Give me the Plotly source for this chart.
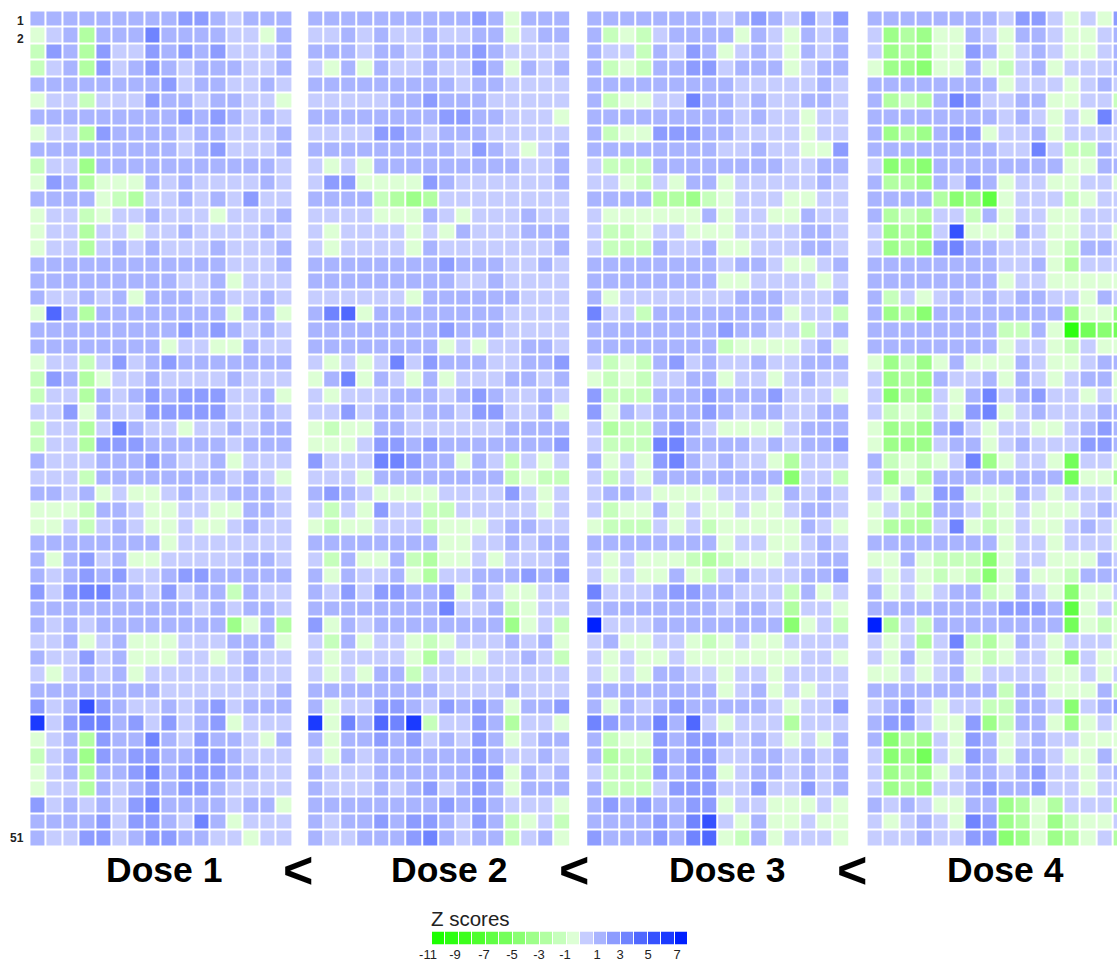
import plotly.graph_objects as go

# Cell codes: digits 0..7 are z = 0..7 (blue), letters a..k are z = -1..-11 (green)
dose1 = [
 "1111111112210111", "a01c1113111100a1", "b21c200212120001", "b01c201210111001", "1111111120110010",
 "a00b00021101100a", "1111111112121010", "a00c211110110001", "1111111110120001", "b00d111111111110",
 "a21caaa101000010", "1111abc001010200", "a00ba001000a0001", "a00c00a001000010", "a00c010100010001",
 "1111111111110001", "111111111001a000", "100101a111010010", "a41c11111111a11a", "1111111112121010",
 "11111111a00aa100", "a00b020121111111", "b21ca00100001000", "b00c10121222001a", "002a100222220010",
 "b00c03100a001011", "b00c222111110111", "100011121001a000", "000b11111111010a", "1101a0aa01001110",
 "aaab110aa00aa110", "aa0b010aa0aa0100", "11111111a0000000", "1a1201aa00000110", "1012120012211111",
 "20233110 2011b100", "1111111111010110", "10101111 1111da1c", "001a01aaa000111a", "100201aaa00a0100",
 "0a0101a000000100", "1111111100000001", "2015210010120111", "602331202012a000", "a01c2113102110a1",
 "b01d212211221000", "a01c112312221100", "a00c101212210000", "201010231111011a", "111120221031a000",
 "100220122110 0a00",
]
dose2 = [
 "111111111121a111", "001010010011a011", "1110110111210000", "0a1a10010021a101", "1111111110110000",
 "0000011211100000", "111111112211000a", "0000221011100000", "1111111110210a01", "0a0a111111111001",
 "022aaaa210000001", "1111bcdc00000000", "0000aaa10a000100", "0a0000a0a1000111", "0a0000a100000001",
 "1111111121110010", "1111111110010000", "000000a111111000", "134a111111110000", "1111111121110000",
 "11111111a0a00110", "0a0a030211100112", "a13a10a1a0001101", "0a00011101210010", "002011011022001a",
 "abaa110000001111", "aaa0221211111112", "200033211a10b0a0", "000a11111111babb", "1210aaaa000020a0",
 "0b0a200bb00000a0", "abaa000baaa01100", "11111111aa001011", "0b1aa1bcaa0a0001", "1a1001ac00111212",
 "102022112a10aa00", "111111113001ba00", "2a1011111111da0b", "0b1a00aba000101a", "0a0000ac0aa0010b",
 "0a0a11b000000000", "1111111100001000", "1a0022102121a112", "6a31436b0021c00a", "1a1121201021a011",
 "0a10111111210010", "100011111122a101", "100010120121a111", "111111112121000a", "101121221021ba0b",
 "100111231011b01a",
]
dose3 = [
 "1111111101210202", "1bab01111a10a101", "100b1021a010a101", "1bab11220111a011", "1111111110000010",
 "1baa003110100110", "1111111110100a00", "1baa222110000a00", "11111111 00100aa2", "0bbb111111110011",
 "00ab0a11a0000010", "1111ccdba000aa00", "0aaaaaa1a00aa100", "0bba00aaa0000110", "0bbb1001aa000110",
 "111111110110aa01", "11111111aa0000a0", "1a00000001110001", "300b11111111a00b", "1111111121100b01",
 "11111111baaaa01a", "0bab120100100111", "abab0011a00a0100", "2bbb11121112000a", "2a10111210110011",
 "0cbb1210aaaa0111", "0bbb331111010112", "1a0a2310100ac000", "0b0a11111111e00b", "0110aaaa000a1010",
 "0baa1a0aa0aa0110", "abbb0a0baaaaa10a", "11111111a00aa010", "0a0aaabcbaaa0011", "0a0aa1ab01000112",
 "300012211000b1a0", "111111110110c00a", "700011111111ea0b", "01aa00aba0aa0000", "0a0aa0aaaaaaa00a",
 "0a0a1100a00a0000", "11111111a01a0a00", "1a1012111110a002", "32113140a000c000", "1baa21221010a0a1",
 "1cbb212200110101", "0bbb2122a0110101", "1bbb022200200201", "12121122a00aa a0a", "111121350a1aa0aa",
 "21112134ab1a000a",
]
dose4 = [
 "111111110220a0a2", "0dcdaa10a110aa01", "0dcdaa21a010aa01", "addeaa1ab01a0001", "11111111a000a010",
 "1cbc1320011aa00b", "11111111010a0a30", "1dcd122a001a0000", "111111110030bb10", "0ede11111111aa11",
 "1ccd1021a00aa00a", "1111cedga000ba00", "1cbc00b1a00aa000", "0dcd05aaa10aa00a", "0dcd2311000ab110",
 "11111111001ac000", "11111111a00aaaaa", "1b0a010101100a10", "1dce11111111daad", "11111111bb1ajfef",
 "11111111a00ab0aa", "adbda1aaa10aa011", "0dcd1001a10a011a", "0ecd0a1301200a0a", "0bab0a23a0100011",
 "adcd120a00aa0121", "addd011a01000221", "1baba03da00af00a", "0dac11111111faad", "0a1a22aaa10a000a",
 "a0bc110ba0aaa010", "accc03aba0aa010a", "11111111a00a000a", "aa1abbbea00aaa10", "0a0ababea1aab111",
 "1a0a011ba10aeaa0", "111111112221ga0b", "7c0b11111111faba", "0a0c03bca10a000a", "0a1a01aba00ae0aa",
 "aa0a01a0000aa0a0", "11111111b11aaa1b", "0120a00bb110e012", "1220aa2db11ada0a", "1ecd0a21a0100aaa",
 "0edf0a21a110aa1a", "0dcda01101200a01", "0dcd001211200a00", "1010aa11dcac000c", "0a010a32dcadbaa0",
 "00010022edadca0c",
]

row_labels = ["1", "2", "51"]
dose_names = ["Dose 1", "Dose 2", "Dose 3", "Dose 4"]
legend_values = list(range(-11, 8))
legend_tick_text = ["-11", "-9", "-7", "-5", "-3", "-1", "1", "3", "5", "7"]

green_shades = ["#DDFFD5", "#C6FFBC", "#B2FFA2", "#9EFF8A", "#8AFF72", "#74FF5A",
                "#60FF44", "#4EFF2E", "#3CFF1C", "#2CFF10", "#1CFF00"]
blue_shades = ["#C6CDFF", "#A9B4FF", "#8D9CFF", "#7084FF", "#5068FF", "#3652FF", "#1B3AFF", "#0020FF"]


def decode(rows):
    out = []
    for r in rows:
        r = r.replace(" ", "")
        assert len(r) == 16, r
        out.append([int(c) if c.isdigit() else -(ord(c) - 96) for c in r])
    return out


W, H = 1117, 963
ZMIN, ZMAX = -11.5, 7.5
scale = []
cols = list(reversed(green_shades)) + blue_shades
n = len(cols)
for i, c in enumerate(cols):
    scale += [[i / n, c], [(i + 1) / n, c]]


def fx(px):
    return px / W


def fy(px):
    return 1 - px / H


fig = go.Figure()
panels = [
    (dose1, 29.4, 291.9, 15.5),
    (dose2, 307.2, 569.7, 15.5),
    (dose3, 586.2, 849.0, 15.5),
    (dose4, 866.6, 1117.0, 14.77),
]
layout = {}
for i, (vals, x0, x1, xmax) in enumerate(panels):
    k = i + 1
    suffix = "" if k == 1 else str(k)
    fig.add_trace(go.Heatmap(z=decode(vals), x=list(range(16)), y=list(range(1, 52)),
                             xaxis="x" + suffix, yaxis="y" + suffix,
                             zmin=ZMIN, zmax=ZMAX, colorscale=scale, showscale=False,
                             xgap=2, ygap=2, hoverinfo="skip"))
    layout["xaxis" + suffix] = dict(domain=[fx(x0), fx(x1)], range=[-0.5, xmax], visible=False,
                                    anchor="y" + suffix, fixedrange=True)
    layout["yaxis" + suffix] = dict(domain=[fy(846.0), fy(10.5)], range=[51.5, 0.5], visible=False,
                                    anchor="x" + suffix, fixedrange=True)

# colour key: the axis starts left of the first swatch so that the "-11" label fits
fig.add_trace(go.Heatmap(z=[legend_values], x=legend_values, y=[0], xaxis="x5", yaxis="y5",
                         zmin=ZMIN, zmax=ZMAX, colorscale=scale, showscale=False, xgap=1,
                         hoverinfo="skip"))
tick_px = [428, 455, 484, 512, 539, 565, 597, 620, 648, 677]
LEG_AXIS_X0, LEG_X0, LEG_X1 = 412.0, 432.0, 688.0
step = (LEG_X1 - LEG_X0) / len(legend_values)
tick_vals = [-11.5 + (p - LEG_X0) / step for p in tick_px]
layout["xaxis5"] = dict(domain=[fx(LEG_AXIS_X0), fx(LEG_X1)],
                        range=[-11.5 - (LEG_X0 - LEG_AXIS_X0) / step, 7.5], anchor="y5",
                        tickmode="array", tickvals=tick_vals, ticktext=legend_tick_text,
                        ticks="", showgrid=False, zeroline=False, showline=False,
                        tickfont=dict(family="Liberation Sans", size=13, color="#222222"),
                        fixedrange=True)
layout["yaxis5"] = dict(domain=[fy(944.5), fy(931.5)], visible=False, anchor="x5", fixedrange=True)

ann = []


def label(text, xpx, ypx, size, bold=False, xanchor="center", color="#000000"):
    ann.append(dict(text=f"<b>{text}</b>" if bold else text, x=fx(xpx), y=fy(ypx), xref="paper", yref="paper",
                    showarrow=False, xanchor=xanchor, yanchor="middle",
                    font=dict(family="Liberation Sans", size=size, color=color)))


for name, cx in zip(dose_names, [164, 449, 727, 1005.5]):
    label(name, cx, 870, 35.5, bold=True)
for cx in [298, 574, 852]:
    label("&lt;", cx, 870, 52, bold=True)
label("Z scores", 470.5, 918, 20.5, color="#222222")
for t, ypx in zip(row_labels, [20.5, 38.5, 838]):
    label(t, 25.5, ypx, 12, bold=True, xanchor="right", color="#222222")

fig.update_layout(width=W, height=H, margin=dict(l=0, r=0, t=0, b=0), paper_bgcolor="white",
                  plot_bgcolor="white", showlegend=False, annotations=ann, **layout)
fig.write_html("out.html", include_plotlyjs=True, config={"displayModeBar": False},
               post_script="document.body.style.margin='0';document.body.style.overflow='hidden';")
